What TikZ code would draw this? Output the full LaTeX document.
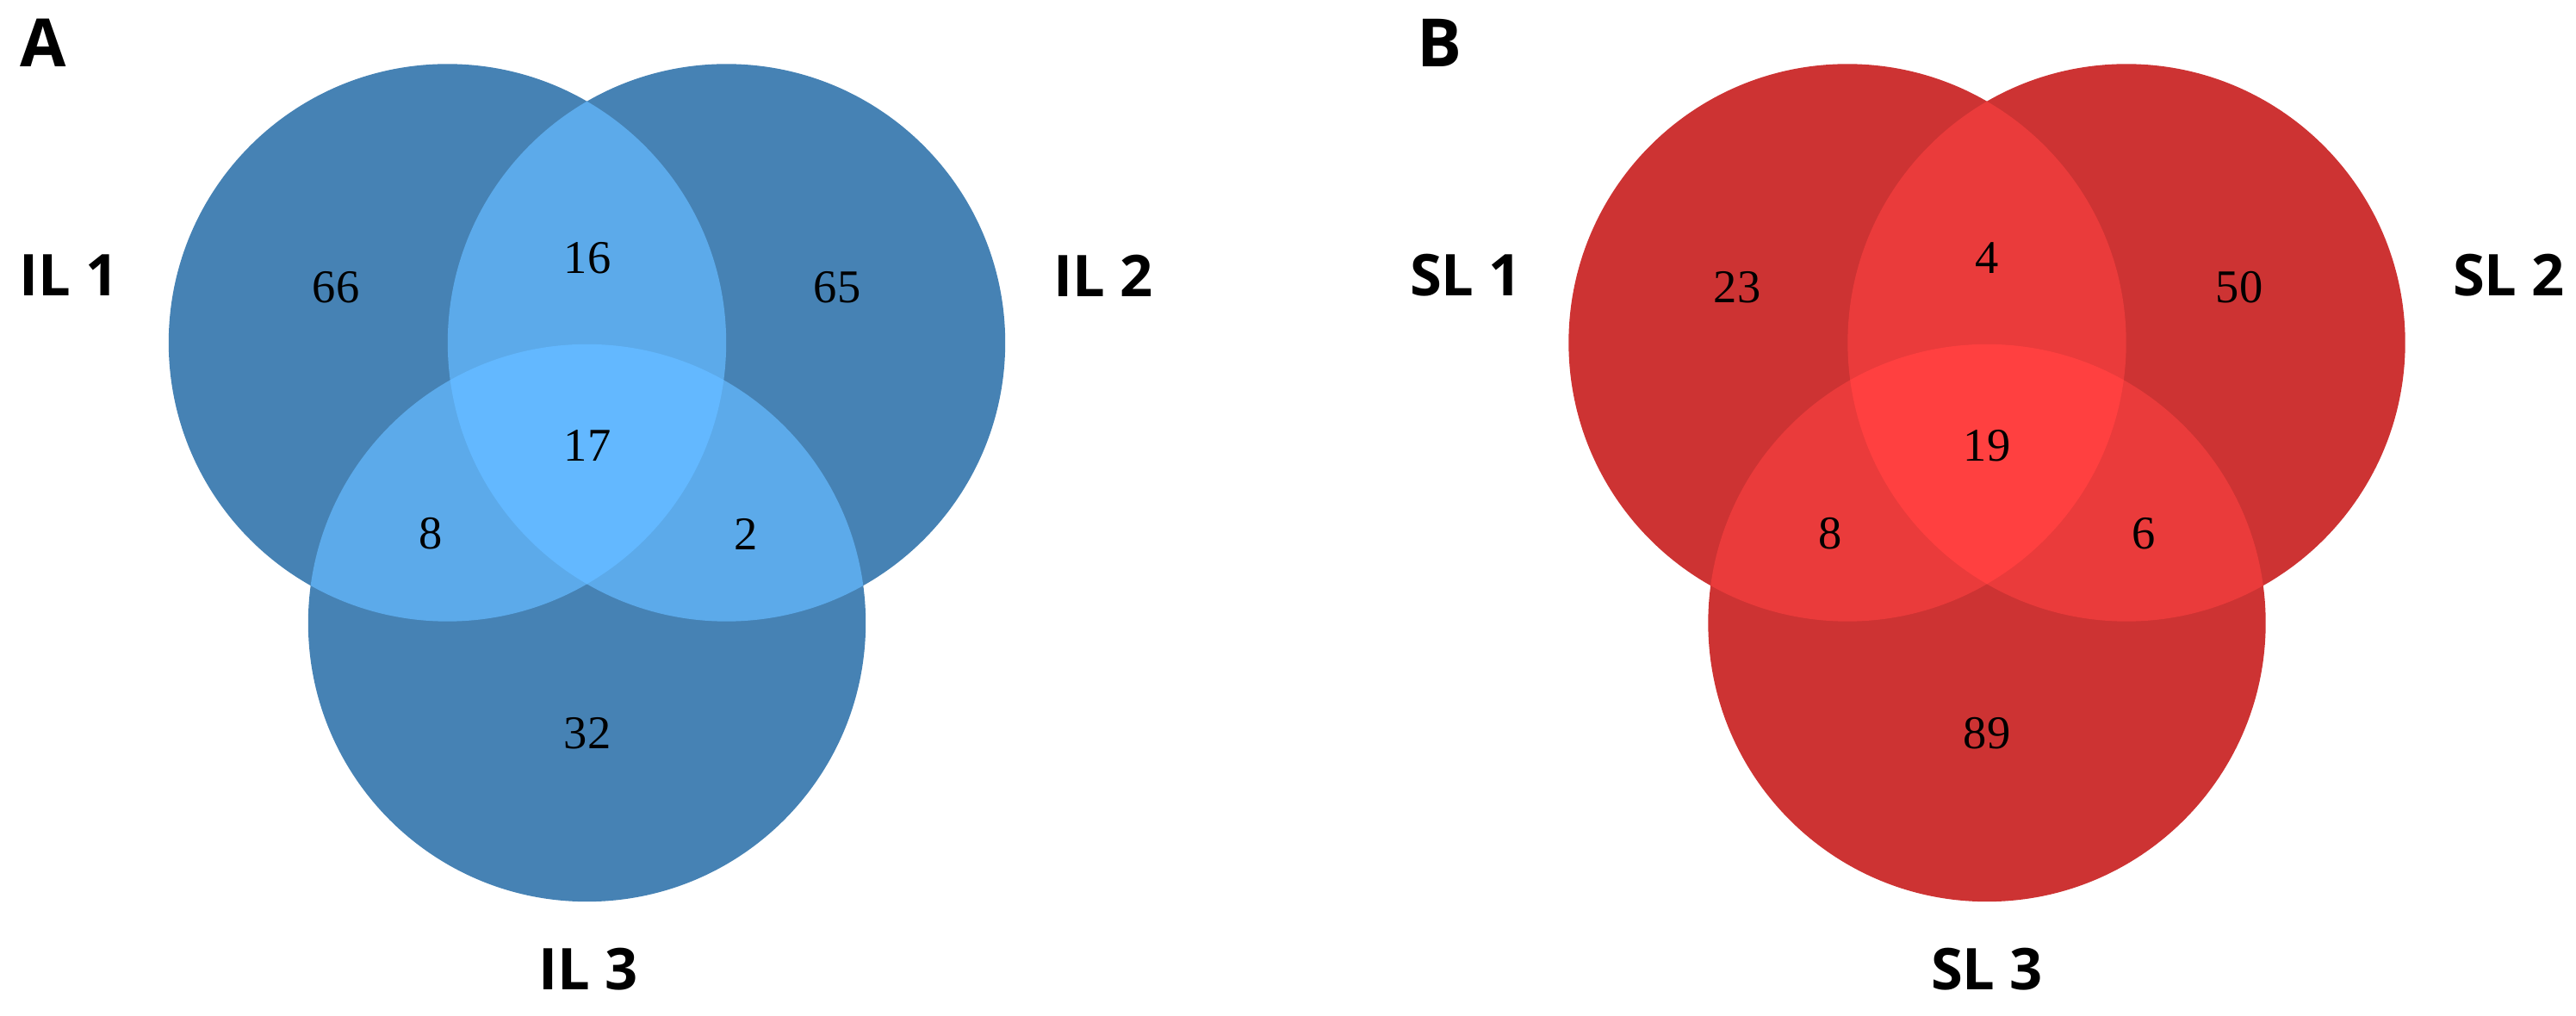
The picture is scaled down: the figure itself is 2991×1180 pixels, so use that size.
\documentclass[tikz,border=0pt]{standalone}
\usepackage{fontspec}
\setmainfont{Liberation Serif}
\newfontfamily\labelfont{Open Sans}
\definecolor{blueone}{HTML}{4682B4}
\definecolor{bluetwo}{HTML}{5CAAEA}
\definecolor{bluethree}{HTML}{63B8FF}
\definecolor{redone}{HTML}{CD3333}
\definecolor{redtwo}{HTML}{EA3B3B}
\definecolor{redthree}{HTML}{FF4040}
\def\rad{3.235cm}
\tikzset{
  setname/.style={font=\labelfont\bfseries\fontsize{19}{19}\selectfont},
  panelname/.style={font=\labelfont\bfseries\fontsize{22}{22}\selectfont},
  count/.style={font=\fontsize{15.5}{15.5}\selectfont}
}

\begin{document}
\begin{tikzpicture}[x=0.01cm,y=-0.01cm]
	%%%%% START %%%%%
	\useasboundingbox (0,0) rectangle (2991,1180);

	% three circles per panel, overlaps filled by clipping
	\foreach \cx/\col in {681.5/blue, 2307/red}{
		\coordinate (c1) at (\cx-162,398);
		\coordinate (c2) at (\cx+162,398);
		\coordinate (c3) at (\cx,723.5);
		\fill[\col one] (c1) circle (\rad);
		\fill[\col one] (c2) circle (\rad);
		\fill[\col one] (c3) circle (\rad);
		\begin{scope}
			\clip (c1) circle (\rad);
			\fill[\col two] (c2) circle (\rad);
			\fill[\col two] (c3) circle (\rad);
		\end{scope}
		\begin{scope}
			\clip (c2) circle (\rad);
			\fill[\col two] (c3) circle (\rad);
		\end{scope}
		\begin{scope}
			\clip (c1) circle (\rad);
			\clip (c2) circle (\rad);
			\fill[\col three] (c3) circle (\rad);
		\end{scope}
	}

	% panel A
	\node[panelname] (panelA) at (50,50) {A};
	\node[setname] (il1) at (80,320) {IL 1};
	\node[setname] (il2) at (1281,320) {IL 2};
	\node[setname] (il3) at (683,1126) {IL 3};
	\node[count] (a100) at (390,334) {66};
	\node[count] (a010) at (972,334) {65};
	\node[count] (a110) at (682,300) {16};
	\node[count] (a111) at (682,518) {17};
	\node[count] (a101) at (500,620) {8};
	\node[count] (a011) at (866,620) {2};
	\node[count] (a001) at (682,852) {32};

	% panel B
	\node[panelname] (panelB) at (1671,50) {B};
	\node[setname] (sl1) at (1702,320) {SL 1};
	\node[setname] (sl2) at (2913,320) {SL 2};
	\node[setname] (sl3) at (2307,1126) {SL 3};
	\node[count] (b100) at (2017,334) {23};
	\node[count] (b010) at (2600,334) {50};
	\node[count] (b110) at (2307,300) {4};
	\node[count] (b111) at (2307,518) {19};
	\node[count] (b101) at (2125,620) {8};
	\node[count] (b011) at (2489,620) {6};
	\node[count] (b001) at (2307,852) {89};
	%%%%% END %%%%%
\end{tikzpicture}
\end{document}
